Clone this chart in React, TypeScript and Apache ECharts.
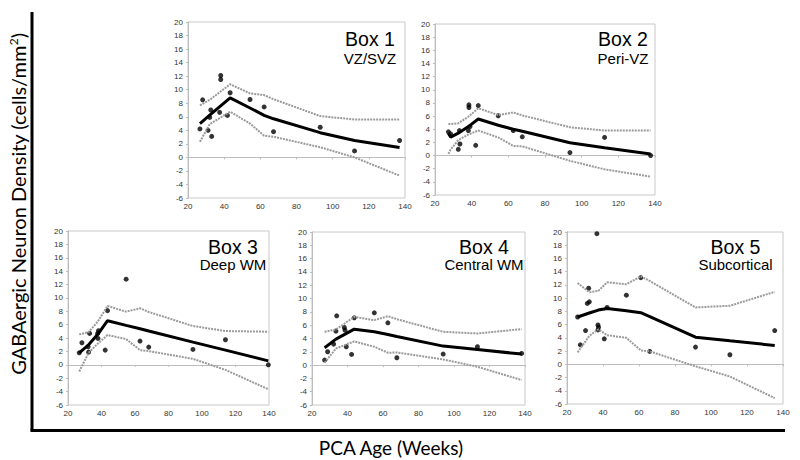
import React, { useEffect, useRef } from "react";
import * as echarts from "echarts";

// ---- Data ----
const xTicks = [20, 40, 60, 80, 100, 120, 140];
const yTicks = [-6, -4, -2, 0, 2, 4, 6, 8, 10, 12, 14, 16, 18, 20];

const boxTitles = ["Box 1", "Box 2", "Box 3", "Box 4", "Box 5"];
const boxRegions = ["VZ/SVZ", "Peri-VZ", "Deep WM", "Central WM", "Subcortical"];

// Box 1 – VZ/SVZ
const box1Age = [26.6, 28.1, 31.1, 32, 32.6, 33.1, 37.5, 38.1, 38.1, 41.8, 43.3, 54.3, 62.1, 67.3, 93.1, 112.1, 137];
const box1Density = [4.2, 8.5, 4.0, 5.9, 7.0, 3.1, 6.65, 12.1, 11.5, 6.2, 9.55, 8.55, 7.45, 3.8, 4.45, 0.95, 2.5];
const box1CurveAge = [26.6, 32, 43.3, 54.3, 62.1, 67.3, 93.1, 112.1, 137];
const box1Fit = [5.0, 6.25, 8.8, 7.3, 6.2, 5.7, 3.65, 2.5, 1.45];
const box1Upper = [7.7, 8.5, 10.8, 9.45, 9.2, 8.6, 6.1, 5.6, 5.6];
const box1Lower = [2.3, 4.9, 6.75, 5.0, 3.2, 3.05, 1.5, 0.0, -2.7];

// Box 2 – Peri-VZ
const box2Age = [27.3, 28.5, 32.7, 33.3, 33.6, 38.2, 38.5, 38.5, 39.1, 42.2, 43.6, 54.5, 62.7, 67.6, 93.6, 112.5, 137.6];
const box2Density = [3.6, 3.3, 0.95, 3.8, 1.75, 3.8, 7.7, 7.3, 4.4, 1.55, 7.6, 6.05, 3.8, 2.85, 0.45, 2.75, 0];
const box2CurveAge = [27.3, 28.5, 32.7, 38.2, 43.6, 54.5, 62.7, 67.6, 93.6, 112.5, 137.6];
const box2Fit = [3.4, 2.8, 3.4, 4.4, 5.55, 4.6, 4.0, 3.7, 1.95, 1.2, 0.25];
const box2Upper = [4.8, 4.8, 4.9, 5.9, 7.2, 6.15, 6.55, 6.1, 4.3, 3.8, 3.8];
const box2Lower = [0.25, 0.9, 2.35, 3.2, 3.8, 2.75, 1.45, 1.4, -0.8, -2.1, -3.2];

// Box 3 – Deep WM
const box3Age = [26.7, 28.3, 32.3, 32.9, 32, 37.7, 38.2, 37.9, 42.2, 43.6, 54.7, 63, 68.2, 94.6, 114, 139.6];
const box3Density = [1.8, 3.3, 1.9, 4.7, 2.7, 4.7, 5.1, 3.95, 2.2, 8.1, 12.8, 3.55, 2.65, 2.3, 3.75, 0];
const box3CurveAge = [26.7, 32.3, 37.9, 43.6, 54.7, 63, 68.2, 94.6, 114, 139.6];
const box3Fit = [1.8, 3.0, 4.6, 6.6, 5.9, 5.4, 5.05, 3.4, 2.2, 0.6];
const box3Upper = [4.55, 4.9, 6.5, 8.8, 7.95, 8.45, 7.9, 5.8, 5.05, 4.95];
const box3Lower = [-1.0, 1.8, 3.2, 4.45, 3.85, 2.2, 2.05, 0.9, -0.75, -3.65];

// Box 4 – Central WM
const box4Age = [27.1, 28.8, 32.2, 33.5, 33.9, 38.2, 38.6, 39.3, 42.3, 43.8, 55.1, 62.75, 67.8, 93.9, 113.2, 138.1];
const box4Density = [0.75, 2.0, 3.15, 5.1, 7.4, 5.65, 5.25, 2.75, 1.6, 7.1, 7.85, 6.35, 1.1, 1.65, 2.75, 1.75];
const box4CurveAge = [27.1, 33.5, 43.8, 55.1, 62.75, 67.8, 93.9, 113.2, 138.1];
const box4Fit = [2.6, 3.9, 5.4, 5.0, 4.6, 4.3, 2.85, 2.35, 1.65];
const box4Upper = [5.0, 5.35, 7.25, 6.75, 7.35, 6.9, 5.0, 4.75, 5.4];
const box4Lower = [0.35, 2.5, 3.55, 2.75, 1.85, 1.9, 0.85, -0.25, -2.25];

// Box 5 – Subcortical
const box5Age = [25.9, 27.4, 30.3, 31.3, 32.4, 32.0, 36.6, 37.2, 37.5, 37.2, 40.7, 42.3, 53, 61, 66, 91.4, 110.5, 135.4];
const box5Density = [7.15, 2.95, 5.1, 9.2, 9.45, 11.5, 19.75, 5.95, 5.6, 5.2, 3.85, 8.6, 10.45, 13.1, 1.95, 2.6, 1.45, 5.1];
const box5CurveAge = [25.9, 32.4, 37.4, 42.3, 53, 61, 66, 91.4, 110.5, 135.4];
const box5Fit = [7.15, 7.75, 8.2, 8.45, 8.1, 7.8, 7.2, 4.1, 3.55, 2.85];
const box5Upper = [12.3, 10.9, 11.1, 12.4, 12.1, 13.3, 12.6, 8.6, 8.85, 10.95];
const box5Lower = [1.8, 4.3, 5.3, 4.4, 4.0, 2.1, 1.95, -0.3, -1.85, -5.1];

const xAxisTitle = "PCA Age (Weeks)";
const yAxisTitle = "GABAergic Neuron Density (cells/mm";

// ---- Layout (pixels) ----
const grids = [
  { left: 188, top: 22, width: 217, height: 176 },
  { left: 435, top: 24, width: 220, height: 171 },
  { left: 68, top: 231, width: 201, height: 174 },
  { left: 312, top: 232, width: 213, height: 173 },
  { left: 567, top: 232, width: 216, height: 172 },
];
const labelPos = [
  { x: 370, y1: 39, y2: 58 },
  { x: 623, y1: 39, y2: 58 },
  { x: 233, y1: 246.5, y2: 264.5 },
  { x: 484, y1: 246.5, y2: 264.5 },
  { x: 735.5, y1: 246.5, y2: 264.5 },
];

const boxes = [
  [box1Age, box1Density, box1CurveAge, box1Fit, box1Upper, box1Lower],
  [box2Age, box2Density, box2CurveAge, box2Fit, box2Upper, box2Lower],
  [box3Age, box3Density, box3CurveAge, box3Fit, box3Upper, box3Lower],
  [box4Age, box4Density, box4CurveAge, box4Fit, box4Upper, box4Lower],
  [box5Age, box5Density, box5CurveAge, box5Fit, box5Upper, box5Lower],
];

const zip = (a: number[], b: number[]) => a.map((v, i) => [v, b[i]]);

export default function App() {
  const ref = useRef<HTMLDivElement>(null);
  useEffect(() => {
    if (!ref.current) return;
    const chart = echarts.init(ref.current, null, { renderer: "svg" });
    const axisColor = "#bdbdbd";
    const labelStyle = { fontSize: 8, color: "#333", fontFamily: "Liberation Sans" };
    const series: any[] = [];
    boxes.forEach(([age, dens, cAge, fit, up, lo], i) => {
      const dotted = { color: "#9a9a9a", width: 2, type: [2, 1] as any };
      series.push({ type: "line", xAxisIndex: i, yAxisIndex: i, data: zip(cAge, up), symbol: "none", lineStyle: dotted, silent: true });
      series.push({ type: "line", xAxisIndex: i, yAxisIndex: i, data: zip(cAge, lo), symbol: "none", lineStyle: dotted, silent: true });
      series.push({ type: "line", xAxisIndex: i, yAxisIndex: i, data: zip(cAge, fit), symbol: "none", lineStyle: { color: "#000", width: 3 }, silent: true });
      series.push({ type: "scatter", xAxisIndex: i, yAxisIndex: i, data: zip(age, dens), symbolSize: 5, itemStyle: { color: "#000" }, silent: true });
    });
    const graphics: any[] = [
      { type: "line", shape: { x1: 32, y1: 12, x2: 32, y2: 430.5 }, style: { stroke: "#000", lineWidth: 3 } },
      { type: "line", shape: { x1: 30.5, y1: 430.5, x2: 785, y2: 430.5 }, style: { stroke: "#000", lineWidth: 3 } },
      {
        type: "text", x: 391, y: 447,
        style: { text: xAxisTitle, fontSize: 19, fontFamily: "Lato", fill: "#000", align: "center", verticalAlign: "middle" },
      },
      {
        type: "text", x: 18, y: 204, rotation: Math.PI / 2,
        style: {
          text: "{n|" + yAxisTitle + "}{s|2}{n|)}",
          align: "center", verticalAlign: "middle",
          rich: {
            n: { fontSize: 20, fontFamily: "Lato", fill: "#000", lineHeight: 22 },
            s: { fontSize: 12, fontFamily: "Lato", fill: "#000", verticalAlign: "top" },
          },
        },
      },
    ];
    labelPos.forEach((p, i) => {
      graphics.push({ type: "text", x: p.x, y: p.y1, style: { text: boxTitles[i], fontSize: 19.5, fontFamily: "Liberation Sans", fill: "#000", align: "center", verticalAlign: "middle" } });
      graphics.push({ type: "text", x: p.x, y: p.y2, style: { text: boxRegions[i], fontSize: 15, fontFamily: "Liberation Sans", fill: "#000", align: "center", verticalAlign: "middle" } });
    });
    chart.setOption({
      animation: false,
      backgroundColor: "#fff",
      grid: grids.map((g) => ({ ...g, show: true, borderColor: "#c8c8c8", borderWidth: 1, backgroundColor: "transparent" })),
      xAxis: grids.map((_, i) => ({
        type: "value", gridIndex: i, min: xTicks[0], max: xTicks[xTicks.length - 1], interval: 20,
        axisLine: { show: true, lineStyle: { color: axisColor } },
        axisTick: { show: true, length: 2, lineStyle: { color: axisColor } },
        axisLabel: { ...labelStyle, margin: 4 },
        splitLine: { show: false },
      })),
      yAxis: grids.map((_, i) => ({
        type: "value", gridIndex: i, min: yTicks[0], max: yTicks[yTicks.length - 1], interval: 2,
        axisLine: { show: true, lineStyle: { color: axisColor } },
        axisTick: { show: true, length: 2, lineStyle: { color: axisColor } },
        axisLabel: { ...labelStyle, margin: 5 },
        splitLine: { show: false },
      })),
      series,
      graphic: graphics,
    });
    return () => chart.dispose();
  }, []);
  return <div ref={ref} style={{ position: "fixed", left: 0, top: 0, width: 800, height: 460 }} />;
}
